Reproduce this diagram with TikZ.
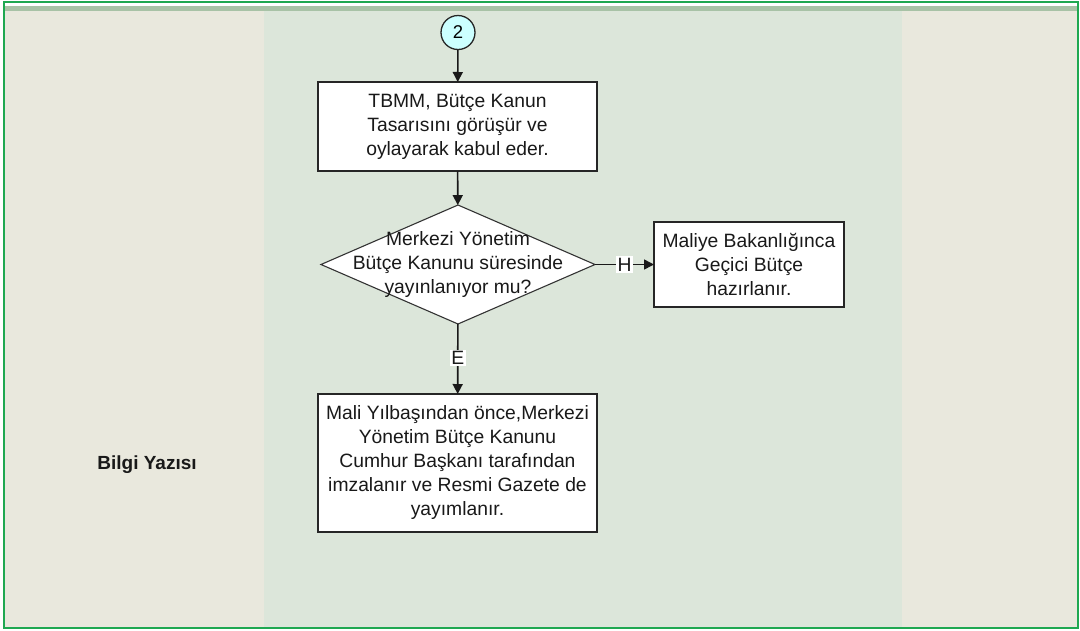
\documentclass[tikz,border=0pt]{standalone}
\usepackage{fontspec}
\setmainfont{Liberation Sans}
\usetikzlibrary{arrows.meta,shapes.geometric}
\definecolor{beigec}{HTML}{E9E8DD}
\definecolor{lanec}{HTML}{DCE6DA}
\definecolor{bandc}{HTML}{A8C2A6}
\definecolor{bordc}{HTML}{1FA851}
\definecolor{circc}{HTML}{CCFFFF}
\begin{document}
\begin{tikzpicture}[x=1pt,y=-1pt,
  txt/.style={font=\fontsize{19.3}{24}\selectfont, align=center, text=black!90},
  proc/.style={txt, draw=black!85, line width=1.6pt, fill=white, inner sep=0pt, outer sep=0pt},
  dec/.style={diamond, draw=black!80, line width=1.1pt, fill=white, inner sep=0pt, outer sep=0pt,
    minimum width=274pt, minimum height=119pt},
  conn/.style={circle, draw=black!85, line width=1.3pt, fill=circc, minimum size=34pt, inner sep=0pt,
    font=\fontsize{18.5}{20}\selectfont},
  arr/.style={line width=1.6pt, black!90, -{Triangle[length=10pt,width=10pt]}},
  lab/.style={fill=white, inner sep=1.5pt, font=\fontsize{19.3}{20}\selectfont}
]
\useasboundingbox (0,0) rectangle (1080,630);
\fill[white] (0,0) rectangle (1080,630);
\fill[beigec] (5,10) rectangle (264,627);
\fill[lanec] (264,10) rectangle (902,627);
\fill[beigec] (902,10) rectangle (1077,627);
\fill[bandc] (5,6) rectangle (1077,10.5);
\draw[bordc, line width=2pt] (4,1.5) rectangle (1078,627.5);

\node[txt, font=\bfseries\fontsize{19}{24}\selectfont] (lbl) at (147,465) {Bilgi Yazısı};

\node[conn] (c2) at (458,32.5) {2};
\node[proc, minimum width=279pt, minimum height=89pt] (b1) at (457.5,126.5)
  {TBMM, Bütçe Kanun\\Tasarısını görüşür ve\\oylayarak kabul eder.};
\node[dec] (d) at (458,264.5) {};
\node[txt] (dt) at (458,264.5) {Merkezi Yönetim\\Bütçe Kanunu süresinde\\yayınlanıyor mu?};
\node[proc, minimum width=190pt, minimum height=85pt] (b2) at (749,264.5)
  {Maliye Bakanlığınca\\Geçici Bütçe\\hazırlanır.};
\node[proc, minimum width=279pt, minimum height=138pt] (b3) at (457.5,463)
  {Mali Yılbaşından önce,Merkezi\\Yönetim Bütçe Kanunu\\Cumhur Başkanı tarafından\\imzalanır ve Resmi Gazete de\\yayımlanır.};

\draw[arr] (c2) -- (b1);
\draw[arr] (b1) -- (d);
\draw[arr] (d) -- node[lab] {H} (b2);
\draw[arr] (d) -- node[lab, pos=0.49] {E} (b3);
\end{tikzpicture}
\end{document}
